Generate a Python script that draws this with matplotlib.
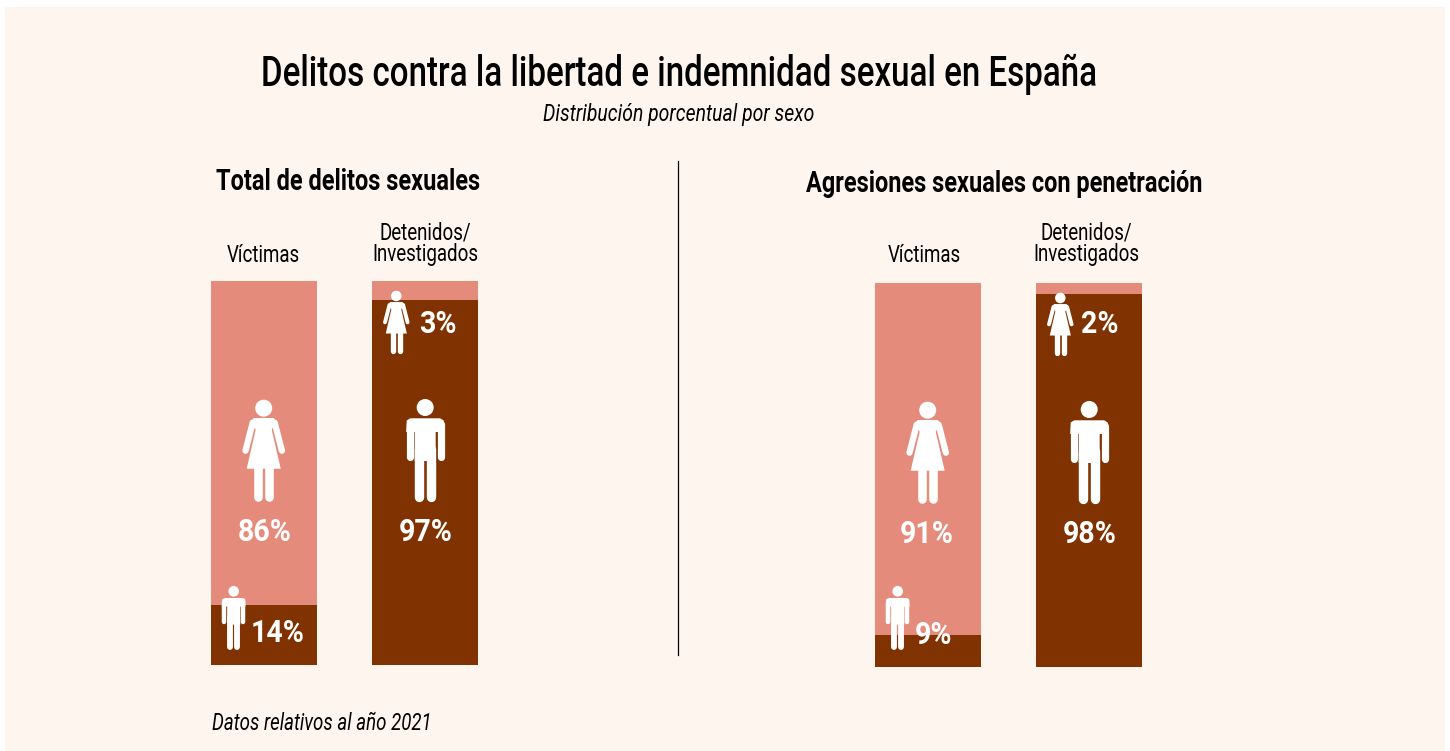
import matplotlib
matplotlib.use("Agg")
import matplotlib.pyplot as plt
from matplotlib.patches import Circle, Polygon
from matplotlib.lines import Line2D
from matplotlib.font_manager import FontProperties, findfont
from fontTools.ttLib import TTFont

# data
grupos = ["Víctimas", "Detenidos/\nInvestigados"]
hombres_total = [15.6, 95.0]  # height of dark segment as drawn
mujeres_total = [84.4, 5.0]
hombres_agr = [8.3, 97.1]
mujeres_agr = [91.7, 2.9]
etiquetas_total = ["86%", "14%", "3%", "97%"]
etiquetas_agr = ["91%", "9%", "2%", "98%"]

SALMON = "#e58b7c"
MARRON = "#803300"
FONDO = "#fff5ef"

W, H = 1450, 751
fig = plt.figure(figsize=(W / 100, H / 100), dpi=100, facecolor="white")


def condensada(weight, style, k):
    # no condensed family installed, so squeeze Roboto horizontally into a local ttf
    src = findfont(FontProperties(family="Roboto", weight=weight, style=style))
    font = TTFont(src)
    glyf = font["glyf"]
    for name in glyf.keys():
        g = glyf[name]
        if g.isComposite():
            for c in g.components:
                c.x = int(c.x * k)
        elif g.numberOfContours > 0:
            g.coordinates.scale((k, 1))
            g.recalcBounds(glyf)
    hmtx = font["hmtx"]
    for name in hmtx.metrics:
        adv, lsb = hmtx.metrics[name]
        hmtx.metrics[name] = (int(adv * k), int(lsb * k))
    dest = "cond_%s_%s_%d.ttf" % (weight, style, int(k * 100))
    font.save(dest)
    return dest


def fp(weight, style, k, size):
    return FontProperties(fname=condensada(weight, style, k), size=size)


F_TITULO = fp(500, "normal", 0.77, 31)
F_SUB = fp(400, "italic", 0.82, 17)
F_NOTA = fp(400, "italic", 0.79, 17)
F_SECCION = fp(700, "normal", 0.8, 21.2)
F_GRUPO = fp(400, "normal", 0.8, 16.8)
F_VALOR = fp(700, "normal", 0.92, 22.3)


def axes_px(x0, y0, x1, y1):
    return fig.add_axes([x0 / W, 1 - y1 / H, (x1 - x0) / W, (y1 - y0) / H])


# background panel
fondo = axes_px(5, 7, 1445, 751)
fondo.set_facecolor(FONDO)
fondo.set_xticks([])
fondo.set_yticks([])
for sp in fondo.spines.values():
    sp.set_visible(False)


def barras(x0, y0, x1, y1, hombres, mujeres):
    ax = axes_px(x0, y0, x1, y1)
    pos = [0, 1]
    ax.bar(pos, hombres, width=0.658, color=MARRON)
    ax.bar(pos, mujeres, width=0.658, bottom=hombres, color=SALMON)
    ax.set_xlim(-0.329, 1.329)
    ax.set_ylim(0, 100)
    ax.axis("off")


barras(211, 281, 478, 665, hombres_total, mujeres_total)
barras(875, 283, 1142, 667, hombres_agr, mujeres_agr)

# overlay in pixel coordinates for text and pictograms
ov = fig.add_axes([0, 0, 1, 1], facecolor="none")
ov.set_xlim(0, W)
ov.set_ylim(H, 0)
ov.axis("off")


def mujer(cx, top, h):
    s = h / 102.0
    P = lambda pts: [(cx + a * s, top + b * s) for a, b in pts]
    ov.add_patch(Circle((cx, top + 8.5 * s), 8.5 * s, fc="white", ec="none"))
    ov.add_patch(Polygon(P([(-10, 18.3), (10, 18.3), (13, 22), (8, 30), (17, 69), (-17, 69), (-8, 30), (-13, 22)]),
                 fc="white", ec="none"))
    for d in (-1, 1):
        ov.add_line(Line2D([cx + d * 11 * s, cx + d * 18.2 * s], [top + 23 * s, top + 51 * s],
                           color="white", lw=6.3 * s * 0.72, solid_capstyle="round"))
        ov.add_line(Line2D([cx + d * 5.6 * s] * 2, [top + 65 * s, top + 97.5 * s],
                           color="white", lw=8.6 * s * 0.72, solid_capstyle="round"))


def hombre(cx, top, h):
    s = h / 102.7
    P = lambda pts: [(cx + a * s, top + b * s) for a, b in pts]
    ov.add_patch(Circle((cx, top + 8.5 * s), 8.5 * s, fc="white", ec="none"))
    ov.add_patch(Polygon(P([(-15, 19.3), (15, 19.3), (18.5, 21.5), (19, 33), (10.5, 33), (10.5, 62), (-10.5, 62),
                            (-10.5, 33), (-19, 33), (-18.5, 21.5)]), fc="white", ec="none"))
    for d in (-1, 1):
        ov.add_line(Line2D([cx + d * 15.4 * s] * 2, [top + 25 * s, top + 57.5 * s],
                           color="white", lw=7.2 * s * 0.72, solid_capstyle="round"))
        ov.add_line(Line2D([cx + d * 5.9 * s] * 2, [top + 50 * s, top + 97.7 * s],
                           color="white", lw=9.4 * s * 0.72, solid_capstyle="round"))


def panel(dx, dy, titulo, tx, ty, etiquetas, gx):
    ov.text(tx, ty, titulo, ha="center", va="center", fontproperties=F_SECCION, color="black")
    ov.text(263 + gx, 255, grupos[0], ha="center", va="center", fontproperties=F_GRUPO, color="black")
    ov.text(425 + gx, 244, grupos[1], ha="center", va="center", fontproperties=F_GRUPO, color="black",
            linespacing=0.92)
    mujer(263.7 + dx, 399.7 + dy, 102)
    hombre(425.2 + dx, 399 + dy, 102.7)
    mujer(396.3 + dx, 290.7 + dy, 63.3)
    hombre(233.7 + dx, 586, 64)
    ov.text(265 + dx - (2 if dx else 0), 532 + dy, etiquetas[0], ha="center", va="center", fontproperties=F_VALOR, color="white")
    ov.text(425.5 + dx, 532 + dy, etiquetas[3], ha="center", va="center", fontproperties=F_VALOR, color="white")


panel(0, 0, "Total de delitos sexuales", 348, 182, etiquetas_total, 0)
panel(664, 2, "Agresiones sexuales con penetración", 1004, 184, etiquetas_agr, 661)

# small value labels, next to the small pictograms
ov.text(278, 633, etiquetas_total[1], ha="center", va="center", fontproperties=F_VALOR, color="white")
ov.text(437.5, 324, etiquetas_total[2], ha="center", va="center", fontproperties=F_VALOR, color="white")
ov.text(934, 635, etiquetas_agr[1], ha="center", va="center", fontproperties=F_VALOR, color="white")
ov.text(1099.5, 324, etiquetas_agr[2], ha="center", va="center", fontproperties=F_VALOR, color="white")

ov.add_line(Line2D([678.5, 678.5], [161, 655], color="black", lw=0.9))

ov.text(679, 74, "Delitos contra la libertad e indemnidad sexual en España", ha="center", va="center",
        fontproperties=F_TITULO, color="black")
ov.text(679, 114, "Distribución porcentual por sexo", ha="center", va="center",
        fontproperties=F_SUB, color="black")
ov.text(212, 723, "Datos relativos al año 2021", ha="left", va="center",
        fontproperties=F_NOTA, color="black")

fig.savefig("out.png", dpi=100, facecolor=fig.get_facecolor())
